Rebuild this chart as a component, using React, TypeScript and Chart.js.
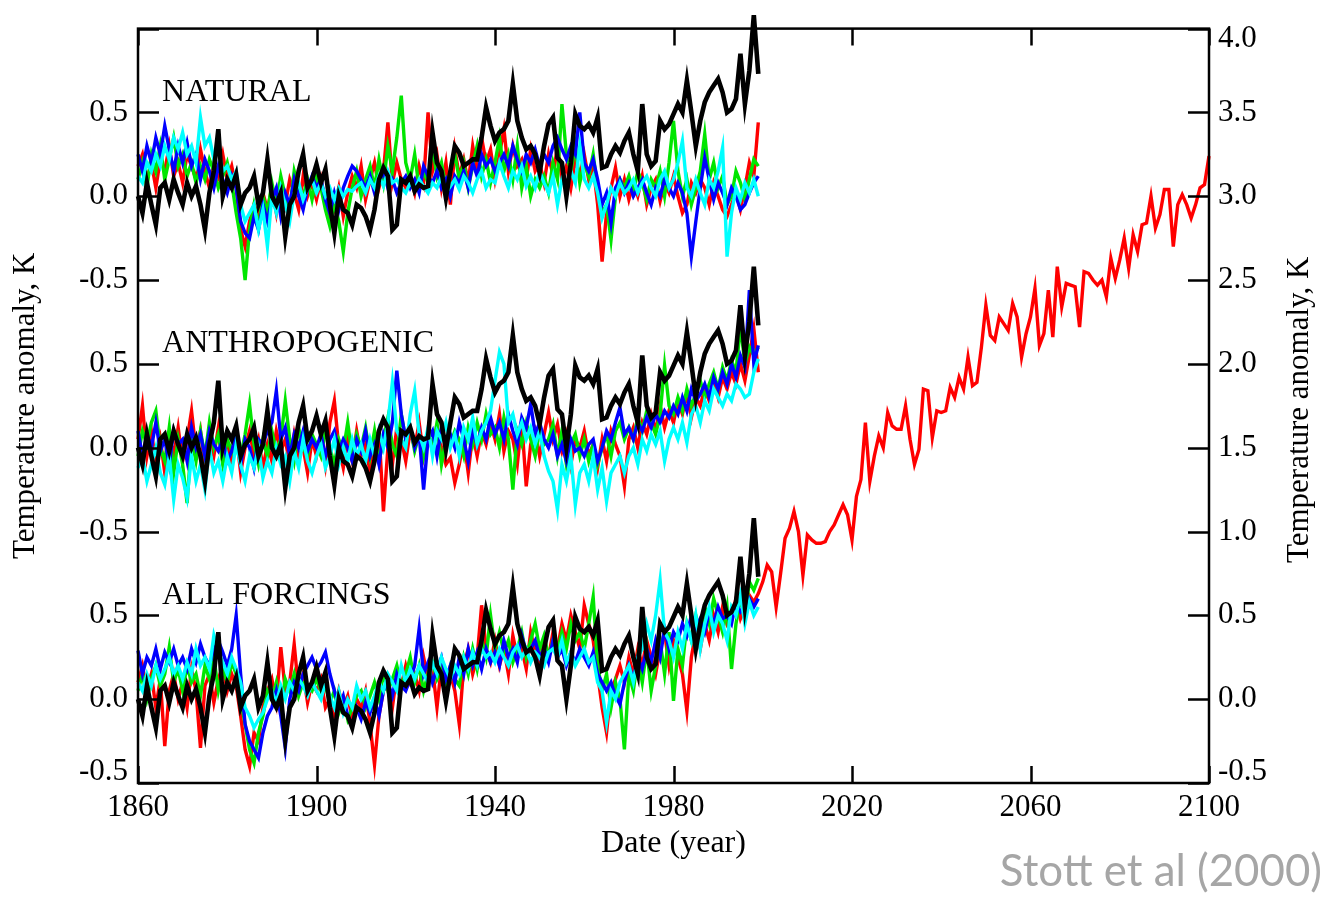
import React, { useEffect, useRef } from 'react';
import { Chart, registerables } from 'chart.js';

Chart.register(...registerables);

// ---------- categories ----------
const histYears = Array.from({ length: 140 }, (_, i) => 1860 + i); // 1860..1999
const projYears = Array.from({ length: 101 }, (_, i) => 2000 + i); // 2000..2100

// ---------- observations (same record in every panel), K ----------
const observed = [
  0.00, -0.10, 0.08, -0.05, -0.17, 0.05, 0.08, -0.02, 0.10, 0.02,
  -0.05, 0.08, 0.00, 0.06, -0.05, -0.20, 0.02, 0.15, 0.40, 0.00,
  0.10, 0.05, 0.13, -0.05, 0.02, 0.05, 0.12, -0.05, 0.02, 0.22,
  0.00, -0.05, 0.02, -0.24, -0.05, 0.00, 0.15, 0.25, 0.05, 0.10,
  0.19, 0.08, 0.16, -0.05, -0.22, 0.00, -0.08, -0.10, -0.17, -0.05,
  -0.07, -0.12, -0.20, -0.08, 0.10, 0.17, 0.12, -0.20, -0.17, 0.10,
  0.08, 0.12, 0.03, 0.07, 0.05, 0.06, 0.38, 0.20, 0.15, -0.01,
  0.15, 0.30, 0.26, 0.18, 0.20, 0.22, 0.22, 0.35, 0.53, 0.42,
  0.33, 0.38, 0.40, 0.45, 0.67, 0.45, 0.35, 0.28, 0.30, 0.25,
  0.14, 0.30, 0.43, 0.47, 0.23, 0.20, 0.00, 0.20, 0.49, 0.42,
  0.40, 0.43, 0.38, 0.47, 0.17, 0.18, 0.25, 0.30, 0.26, 0.33,
  0.38, 0.25, 0.15, 0.55, 0.25, 0.18, 0.21, 0.45, 0.40, 0.43,
  0.49, 0.55, 0.50, 0.69, 0.50, 0.30, 0.45, 0.56, 0.62, 0.66,
  0.70, 0.62, 0.50, 0.52, 0.58, 0.85, 0.55, 0.75, 1.08, 0.73,
];

// ---------- NATURAL forcing ensemble ----------
const naturalRed = [
  0.18, 0.25, 0.10, 0.20, 0.05, 0.22, 0.15, 0.30, 0.12, 0.20,
  0.08, 0.25, 0.18, 0.10, 0.28, 0.15, 0.05, 0.20, 0.12, 0.25,
  0.10, 0.18, 0.05, -0.20, -0.30, -0.15, -0.05, -0.12, 0.02, -0.08,
  0.05, -0.10, 0.08, -0.05, 0.10, 0.02, -0.08, 0.12, 0.00, 0.08,
  -0.02, 0.10, -0.05, -0.15, -0.08, 0.05, -0.12, 0.02, 0.12, 0.05,
  0.18, -0.02, 0.10, 0.20, 0.05, 0.15, 0.44, 0.08, 0.20, 0.10,
  0.05, 0.12, 0.02, 0.18, 0.08, 0.50, 0.15, 0.25, 0.05, 0.20,
  -0.05, 0.28, 0.12, 0.22, 0.08, 0.30, 0.15, 0.35, 0.20, 0.28,
  0.10, 0.25, 0.40, 0.15, 0.30, 0.18, 0.22, 0.10, 0.28, 0.15,
  0.20, 0.08, 0.25, 0.12, 0.30, 0.10, 0.18, 0.05, 0.22, 0.12,
  0.25, 0.10, 0.18, -0.05, -0.39, -0.10, 0.05, 0.17, 0.00, 0.10,
  -0.02, 0.08, 0.00, 0.12, -0.05, 0.05, 0.10, -0.03, 0.08, 0.02,
  0.12, 0.00, -0.10, -0.05, 0.08, 0.02, 0.10, 0.05, -0.05, 0.08,
  0.00, -0.08, -0.12, -0.05, 0.02, -0.08, 0.05, 0.20, 0.12, 0.44,
];
const naturalGreen = [
  0.10, 0.20, 0.05, 0.25, 0.15, 0.30, 0.10, 0.22, 0.35, 0.18,
  0.25, 0.12, 0.20, 0.08, 0.18, 0.10, 0.22, 0.15, 0.05, 0.12,
  0.20, 0.08, -0.10, -0.25, -0.50, -0.20, -0.05, -0.18, 0.00, -0.10,
  0.08, -0.05, 0.12, 0.00, -0.08, 0.15, 0.05, 0.00, 0.10, -0.02,
  0.12, 0.05, -0.08, -0.18, -0.05, -0.15, -0.33, -0.10, 0.05, 0.15,
  0.00, 0.10, 0.18, 0.05, 0.22, 0.08, 0.30, 0.15, 0.35, 0.60,
  0.20, 0.10, 0.25, 0.05, 0.15, 0.08, 0.30, 0.12, 0.20, 0.05,
  0.15, 0.25, 0.10, 0.20, 0.05, 0.18, 0.30, 0.12, 0.22, 0.08,
  0.20, 0.35, 0.15, 0.25, 0.10, 0.30, 0.05, 0.18, 0.00, 0.10,
  0.05, 0.12, 0.02, 0.20, 0.10, 0.55, 0.25, 0.15, 0.30, 0.08,
  0.20, 0.12, 0.25, 0.05, -0.10, -0.05, -0.26, 0.00, 0.10, 0.05,
  0.12, 0.02, 0.15, 0.08, -0.02, 0.10, 0.05, 0.15, 0.00, 0.20,
  0.45, 0.15, 0.00, 0.10, -0.05, 0.05, 0.15, 0.37, 0.10, 0.20,
  0.05, 0.12, -0.05, 0.00, 0.15, 0.08, -0.02, 0.10, 0.22, 0.18,
];
const naturalBlue = [
  0.25, 0.15, 0.30, 0.20, 0.35, 0.25, 0.42, 0.28, 0.15, 0.30,
  0.20, 0.32, 0.18, 0.25, 0.10, 0.22, 0.15, 0.05, 0.18, 0.10,
  0.02, 0.12, 0.05, -0.15, -0.22, -0.25, -0.12, -0.20, -0.05, -0.15,
  -0.02, 0.05, -0.12, 0.02, -0.05, 0.10, 0.00, -0.08, 0.05, 0.12,
  0.05, 0.10, -0.02, -0.10, 0.02, -0.08, 0.05, 0.12, 0.18, 0.15,
  0.10, 0.05, 0.12, 0.02, 0.08, 0.15, 0.05, 0.10, 0.02, 0.08,
  0.12, 0.05, 0.10, 0.02, 0.18, 0.12, 0.08, 0.15, 0.05, 0.10,
  0.00, 0.12, 0.08, 0.15, 0.05, 0.20, 0.12, 0.25, 0.18, 0.22,
  0.15, 0.20, 0.25, 0.18, 0.30, 0.22, 0.15, 0.25, 0.20, 0.28,
  0.18, 0.25, 0.20, 0.30, 0.35, 0.28, 0.22, 0.30, 0.25, 0.50,
  0.20, 0.15, 0.22, 0.10, -0.05, 0.02, -0.16, 0.05, 0.10, 0.02,
  0.08, 0.00, 0.05, 0.10, 0.02, -0.05, 0.05, 0.00, 0.10, 0.05,
  0.00, 0.08, 0.02, -0.10, -0.36, -0.15, 0.05, 0.23, 0.10, -0.02,
  0.08, 0.02, -0.05, 0.05, 0.00, -0.08, -0.05, 0.02, 0.08, 0.12,
];
const naturalCyan = [
  0.12, 0.08, 0.20, 0.15, 0.25, 0.18, 0.30, 0.22, 0.35, 0.28,
  0.38, 0.25, 0.30, 0.20, 0.47, 0.30, 0.35, 0.22, 0.28, 0.15,
  0.18, 0.10, 0.15, -0.05, -0.15, -0.10, -0.05, -0.20, -0.08, -0.30,
  0.00, -0.10, 0.05, -0.05, -0.15, 0.02, 0.08, -0.02, 0.05, 0.10,
  0.02, 0.08, 0.00, 0.05, -0.02, 0.05, 0.00, 0.04, 0.03, 0.06,
  0.08, 0.02, 0.10, 0.05, 0.12, 0.06, 0.15, 0.08, 0.10, 0.05,
  0.02, 0.08, 0.04, 0.10, 0.06, 0.02, 0.08, 0.05, 0.12, 0.02,
  0.06, 0.10, 0.04, 0.12, 0.08, 0.02, 0.10, 0.15, 0.05, 0.10,
  0.08, 0.20, 0.12, 0.05, 0.15, 0.10, 0.18, 0.06, 0.12, 0.05,
  0.15, 0.08, 0.02, 0.12, -0.05, 0.10, 0.05, 0.15, 0.08, 0.30,
  0.10, 0.05, 0.12, 0.02, -0.13, -0.05, 0.05, 0.00, 0.08, 0.02,
  0.05, 0.10, 0.02, 0.08, 0.12, 0.05, 0.00, 0.10, 0.15, 0.05,
  0.10, 0.20, 0.33, 0.05, 0.00, 0.10, 0.02, -0.05, 0.10, 0.05,
  0.15, 0.29, -0.36, -0.10, 0.05, -0.02, 0.08, 0.02, 0.10, 0.00,
];

// ---------- ANTHROPOGENIC forcing ensemble ----------
const anthroRed = [
  0.05, 0.25, -0.05, 0.10, -0.10, 0.05, -0.15, 0.08, -0.05, 0.12,
  -0.08, 0.05, 0.22, -0.02, 0.10, -0.12, 0.05, -0.05, 0.12, -0.08,
  0.02, -0.10, 0.08, -0.15, 0.00, 0.10, -0.05, 0.05, -0.12, 0.02,
  -0.08, 0.10, -0.02, 0.05, -0.10, 0.08, -0.05, 0.00, -0.15, 0.05,
  -0.05, 0.08, -0.10, 0.15, 0.28, 0.00, -0.12, 0.05, -0.08, 0.10,
  -0.05, 0.02, -0.15, 0.05, 0.10, -0.38, 0.00, -0.10, 0.12, 0.05,
  -0.08, 0.10, 0.00, 0.15, -0.05, 0.08, -0.02, 0.12, 0.00, -0.10,
  -0.06, -0.21, -0.10, 0.05, -0.15, 0.08, -0.05, 0.10, 0.02, 0.15,
  0.05, 0.20, -0.02, 0.10, 0.05, -0.10, 0.15, -0.23, 0.02, 0.10,
  -0.05, 0.08, 0.21, 0.05, 0.14, -0.02, 0.08, -0.10, 0.05, 0.00,
  0.10, -0.05, 0.02, -0.12, 0.05, -0.08, 0.10, 0.02, -0.05, -0.23,
  0.05, 0.12, 0.00, 0.15, 0.08, 0.20, 0.10, 0.25, 0.12, 0.22,
  0.15, 0.28, 0.20, 0.32, 0.18, 0.30, 0.25, 0.35, 0.28, 0.40,
  0.30, 0.42, 0.35, 0.45, 0.38, 0.50, 0.40, 0.55, 0.71, 0.45,
];
const anthroGreen = [
  -0.05, 0.10, 0.02, 0.15, 0.22, 0.00, -0.08, 0.12, -0.15, 0.05,
  -0.10, -0.33, 0.05, -0.08, 0.10, -0.05, 0.15, 0.00, 0.08, -0.10,
  0.05, -0.02, 0.12, -0.05, 0.08, 0.26, 0.02, -0.10, 0.05, -0.05,
  0.10, -0.02, 0.05, 0.28, 0.05, -0.08, 0.12, 0.00, -0.05, 0.08,
  0.02, -0.05, 0.10, 0.00, -0.10, 0.05, -0.02, 0.15, -0.05, 0.08,
  0.00, 0.12, -0.05, 0.10, -0.08, 0.05, 0.18, 0.02, -0.05, 0.20,
  0.05, 0.12, -0.02, 0.08, -0.05, 0.10, 0.00, 0.15, -0.10, 0.05,
  0.02, 0.10, 0.05, -0.05, 0.12, 0.02, 0.15, 0.05, 0.20, 0.08,
  0.12, 0.00, 0.18, 0.05, -0.25, 0.10, 0.02, 0.15, 0.05, -0.05,
  0.10, 0.02, 0.05, 0.14, -0.05, 0.10, -0.10, 0.02, 0.08, -0.05,
  0.05, -0.08, 0.02, -0.10, 0.00, 0.08, -0.05, 0.10, 0.15, 0.05,
  0.12, 0.05, 0.18, 0.10, 0.22, 0.15, 0.08, 0.20, 0.49, 0.25,
  0.20, 0.30, 0.22, 0.35, 0.25, 0.32, 0.40, 0.30, 0.38, 0.45,
  0.35, 0.48, 0.40, 0.52, 0.45, 0.73, 0.50, 0.60, 0.55, 0.60,
];
const anthroBlue = [
  0.10, -0.05, 0.08, 0.00, 0.15, -0.02, 0.05, -0.10, 0.10, 0.02,
  0.05, -0.08, 0.12, 0.00, 0.08, -0.05, 0.10, 0.02, -0.02, 0.05,
  -0.08, -0.02, 0.08, -0.10, 0.05, 0.00, -0.12, 0.05, 0.02, 0.10,
  0.15, 0.34, 0.05, 0.12, -0.05, 0.08, 0.00, 0.10, -0.02, 0.05,
  0.00, 0.08, -0.05, 0.05, 0.10, -0.02, 0.05, 0.00, -0.08, 0.05,
  -0.02, 0.10, -0.05, 0.02, -0.10, 0.08, 0.00, 0.15, 0.46, 0.20,
  0.05, 0.12, 0.00, 0.08, -0.25, 0.05, 0.10, -0.05, 0.12, 0.02,
  0.08, 0.00, 0.15, 0.05, -0.08, 0.10, 0.02, 0.12, 0.05, 0.18,
  0.08, 0.15, 0.05, 0.20, 0.10, 0.02, 0.18, 0.12, 0.26, 0.08,
  0.15, 0.05, 0.00, 0.08, -0.05, 0.02, -0.08, 0.05, -0.02, 0.00,
  -0.05, 0.02, 0.05, -0.08, 0.00, 0.10, 0.05, 0.15, 0.24, 0.08,
  0.12, 0.05, 0.15, 0.10, 0.18, 0.12, 0.20, 0.15, 0.22, 0.18,
  0.25, 0.20, 0.30, 0.22, 0.35, 0.28, 0.32, 0.38, 0.30, 0.42,
  0.35, 0.45, 0.38, 0.50, 0.42, 0.55, 0.48, 0.94, 0.50, 0.61,
];
const anthroCyan = [
  -0.12, -0.05, -0.20, -0.10, 0.00, -0.15, -0.22, -0.05, -0.31, -0.10,
  -0.18, -0.30, -0.05, -0.20, -0.10, -0.25, 0.00, -0.15, -0.08, -0.20,
  -0.05, -0.15, 0.02, -0.10, -0.20, -0.05, -0.12, 0.00, -0.18, -0.08,
  -0.15, 0.00, -0.10, -0.05, -0.20, -0.02, -0.12, 0.05, -0.08, -0.15,
  -0.05, 0.02, -0.12, -0.05, 0.05, -0.10, 0.00, -0.08, 0.05, -0.05,
  0.02, -0.08, 0.05, -0.05, 0.10, 0.00, 0.15, 0.39, 0.10, 0.05,
  0.00, 0.20, 0.34, 0.08, 0.00, 0.12, -0.05, 0.10, 0.05, 0.15,
  0.00, 0.08, -0.05, 0.12, 0.05, 0.18, 0.02, 0.10, 0.15, 0.22,
  0.40, 0.57, 0.50, 0.15, 0.20, 0.08, 0.15, 0.05, 0.12, 0.02,
  0.10, -0.05, -0.14, -0.20, -0.37, -0.10, -0.20, -0.05, -0.34, -0.15,
  -0.10, -0.20, -0.05, -0.25, -0.12, -0.32, -0.15, -0.10, -0.05, -0.15,
  -0.05, 0.00, -0.10, 0.05, -0.02, 0.08, 0.02, 0.10, -0.08, 0.05,
  0.12, 0.05, 0.15, 0.03, 0.20, 0.25, 0.15, 0.28, 0.22, 0.35,
  0.30, 0.25, 0.32, 0.28, 0.38, 0.35, 0.30, 0.32, 0.45, 0.53,
];

// ---------- ALL FORCINGS ensemble ----------
const allRed = [
  0.10, 0.20, 0.05, 0.15, -0.05, 0.12, -0.28, 0.05, 0.15, 0.00,
  0.10, -0.05, 0.18, 0.05, -0.29, 0.08, 0.15, -0.02, 0.12, 0.20,
  0.05, 0.15, 0.08, -0.10, -0.30, -0.40, -0.20, -0.25, -0.05, 0.05,
  0.12, -0.02, 0.31, 0.05, 0.10, 0.33, 0.05, 0.15, -0.02, 0.10,
  0.05, 0.12, -0.05, 0.00, -0.10, 0.05, -0.05, 0.02, -0.12, 0.00,
  -0.05, 0.05, -0.15, -0.39, -0.10, 0.05, 0.10, -0.05, 0.15, 0.08,
  0.20, 0.10, 0.15, 0.05, 0.25, 0.12, 0.18, -0.05, 0.20, 0.10,
  0.15, 0.05, -0.15, 0.20, 0.30, 0.15, 0.25, 0.56, 0.30, 0.22,
  0.35, 0.20, 0.30, 0.15, 0.38, 0.25, 0.30, 0.18, 0.40, 0.28,
  0.22, 0.35, 0.25, 0.40, 0.30, 0.45, 0.35, 0.50, 0.40, 0.30,
  0.56, 0.45, 0.35, 0.15, -0.05, -0.20, 0.05, 0.12, 0.20, 0.10,
  0.25, 0.15, 0.30, 0.20, 0.35, 0.25, 0.15, 0.30, 0.40, 0.20,
  0.35, 0.25, 0.15, -0.07, 0.25, 0.40, 0.30, 0.45, 0.35, 0.50,
  0.40, 0.55, 0.45, 0.50, 0.60, 0.48, 0.55, 0.62, 0.58, 0.63,
];
const allRedProjection = [
  0.70, 0.80, 0.76, 0.55, 0.75, 0.96, 1.02, 1.12, 1.00, 0.74,
  0.98, 0.95, 0.93, 0.93, 0.94, 1.00, 1.04, 1.10, 1.16, 1.10,
  0.95, 1.21, 1.31, 1.65, 1.30, 1.45, 1.57, 1.50, 1.71, 1.63,
  1.61, 1.61, 1.75, 1.55, 1.40, 1.49, 1.85, 1.84, 1.56, 1.72,
  1.71, 1.72, 1.86, 1.80, 1.92, 1.85, 2.04, 1.87, 1.89, 2.10,
  2.35, 2.17, 2.14, 2.28, 2.24, 2.20, 2.36, 2.28, 2.04, 2.18,
  2.28, 2.45, 2.11, 2.18, 2.44, 2.16, 2.58, 2.34, 2.48, 2.47,
  2.46, 2.22, 2.55, 2.54, 2.50, 2.47, 2.50, 2.40, 2.63, 2.51,
  2.62, 2.75, 2.57, 2.77, 2.67, 2.83, 2.84, 3.00, 2.81, 2.89,
  3.04, 3.04, 2.70, 2.95, 3.01, 2.95, 2.87, 2.95, 3.05, 3.07,
  3.24,
];
const allGreen = [
  0.05, 0.15, 0.00, 0.12, 0.20, 0.08, 0.15, 0.31, 0.10, 0.18,
  0.05, 0.20, 0.10, 0.15, 0.02, 0.20, 0.12, 0.25, 0.05, 0.18,
  0.10, 0.22, 0.15, 0.00, -0.15, -0.30, -0.38, -0.20, -0.10, 0.05,
  0.00, 0.10, -0.05, 0.12, 0.05, 0.15, 0.02, 0.10, 0.08, 0.05,
  0.12, 0.05, 0.08, -0.02, 0.05, -0.08, 0.00, -0.12, -0.05, 0.02,
  0.05, -0.05, 0.02, 0.10, 0.00, 0.15, 0.05, 0.12, 0.20, 0.08,
  0.15, 0.25, 0.10, 0.20, 0.05, 0.15, 0.22, 0.12, 0.18, 0.10,
  0.20, 0.12, 0.08, 0.25, 0.15, 0.30, 0.18, 0.35, 0.25, 0.50,
  0.30, 0.40, 0.28, 0.35, 0.22, 0.30, 0.40, 0.25, 0.35, 0.45,
  0.30, 0.38, 0.25, 0.35, 0.28, 0.40, 0.30, 0.45, 0.35, 0.40,
  0.30, 0.45, 0.61, 0.20, 0.05, 0.15, -0.05, 0.10, 0.00, -0.30,
  0.15, 0.05, 0.25, 0.10, 0.30, 0.05, 0.20, 0.35, 0.15, 0.40,
  -0.01, 0.30, 0.20, 0.45, 0.35, 0.50, 0.40, 0.55, 0.45, 0.60,
  0.50, 0.40, 0.55, 0.18, 0.45, 0.60, 0.50, 0.70, 0.65, 0.72,
];
const allBlue = [
  0.29, 0.15, 0.25, 0.20, 0.30, 0.18, 0.28, 0.22, 0.30, 0.20,
  0.25, 0.18, 0.30, 0.22, 0.33, 0.25, 0.20, 0.30, 0.35, 0.28,
  0.20, 0.30, 0.50, 0.15, -0.15, -0.25, -0.30, -0.35, -0.20, -0.10,
  -0.05, 0.05, -0.10, -0.29, 0.00, 0.10, 0.05, 0.15, 0.20, 0.25,
  0.18, 0.22, 0.28, 0.15, 0.05, -0.05, 0.02, -0.10, -0.15, -0.05,
  -0.12, -0.02, -0.08, 0.00, -0.10, 0.05, 0.10, 0.02, 0.15, 0.08,
  0.05, 0.12, 0.20, 0.42, 0.15, 0.22, 0.10, 0.18, 0.25, 0.12,
  0.20, 0.10, 0.25, 0.15, 0.30, 0.20, 0.28, 0.18, 0.30, 0.22,
  0.28, 0.20, 0.35, 0.25, 0.30, 0.22, 0.38, 0.28, 0.30, 0.35,
  0.25, 0.30, 0.22, 0.35, 0.25, 0.30, 0.20, 0.28, 0.22, 0.30,
  0.25, 0.20, 0.28, 0.15, 0.10, 0.05, 0.10, 0.02, -0.03, 0.10,
  0.20, 0.12, 0.25, 0.18, 0.30, 0.22, 0.35, 0.25, 0.42, 0.30,
  0.40, 0.35, 0.45, 0.38, 0.50, 0.42, 0.48, 0.40, 0.52, 0.45,
  0.55, 0.48, 0.50, 0.45, 0.58, 0.52, 0.55, 0.60, 0.55, 0.60,
];
const allCyan = [
  0.10, 0.05, 0.15, 0.08, 0.20, 0.12, 0.18, 0.25, 0.15, 0.20,
  0.12, 0.22, 0.15, 0.30, 0.20, 0.25, 0.18, 0.38, 0.28, 0.22,
  0.15, 0.25, 0.18, 0.10, -0.05, -0.10, -0.17, -0.12, -0.08, 0.00,
  0.05, -0.02, 0.08, 0.00, 0.10, 0.05, 0.12, 0.08, 0.02, 0.10,
  0.05, 0.00, 0.10, 0.02, -0.05, 0.05, -0.08, 0.00, -0.05, 0.08,
  0.00, 0.05, -0.05, 0.02, 0.10, 0.05, 0.15, 0.10, 0.05, 0.20,
  0.10, 0.18, 0.12, 0.20, 0.15, 0.10, 0.22, 0.15, 0.25, 0.18,
  0.12, 0.20, 0.15, 0.25, 0.18, 0.28, 0.20, 0.30, 0.25, 0.28,
  0.22, 0.30, 0.25, 0.20, 0.28, 0.32, 0.25, 0.30, 0.22, 0.28,
  0.25, 0.20, 0.28, 0.30, 0.25, 0.35, 0.22, 0.28, 0.20, 0.25,
  0.30, 0.22, 0.25, 0.10, 0.05, -0.14, 0.05, 0.00, 0.10, 0.15,
  0.20, 0.10, 0.25, 0.30, 0.45, 0.35, 0.50, 0.71, 0.40, 0.35,
  0.25, 0.40, 0.30, 0.45, 0.35, 0.50, 0.30, 0.45, 0.55, 0.40,
  0.50, 0.45, 0.35, 0.55, 0.50, 0.62, 0.45, 0.58, 0.50, 0.55,
];

// ---------- axes / labels ----------
const xTickValues = [1860, 1900, 1940, 1980, 2020, 2060, 2100];
const yTickValues = [-0.5, 0, 0.5, 1.0, 1.5, 2.0, 2.5, 3.0, 3.5, 4.0];
const leftTickLabels = ['-0.5', '0.0', '0.5', '-0.5', '0.0', '0.5', '-0.5', '0.0', '0.5', ''];
const rightTickLabels = ['-0.5', '0.0', '0.5', '1.0', '1.5', '2.0', '2.5', '3.0', '3.5', '4.0'];
const panelNames = ['NATURAL', 'ANTHROPOGENIC', 'ALL FORCINGS'];
const panelOffsets = [3.0, 1.5, 0.0];
const yTitle = 'Temperature anomaly, K';
const xTitle = 'Date (year)';
const credit = 'Stott et al (2000)';

const COLORS = { obs: '#000000', red: '#ff0000', green: '#00e600', blue: '#0000ff', cyan: '#00ffff' };
const SERIF = "'Liberation Serif', 'Times New Roman', serif";
const TICK_FONT_PX = 31;

function toPoints(years: number[], values: number[], offset: number) {
  return values.map((v, i) => ({ x: years[i], y: v + offset }));
}

function tickIndex(value: number) {
  return yTickValues.findIndex((t) => Math.abs(t - value) < 1e-6);
}

// edge labels (first / last tick) are nudged inward, so the plugin draws them
function axisLabel(list: string[], value: number) {
  const idx = tickIndex(value);
  if (idx <= 0 || idx === yTickValues.length - 1) return '';
  return list[idx];
}

const decorPlugin = {
  id: 'decor',
  afterDatasetsDraw(chart: any) {
    const { ctx, chartArea, scales } = chart;
    const { left, right, top, bottom } = chartArea;
    ctx.save();
    ctx.strokeStyle = '#000';
    ctx.lineWidth = 2.5;
    ctx.strokeRect(left, top, right - left, bottom - top);
    ctx.beginPath();
    yTickValues.forEach((v) => {
      const y = Math.round(scales.y.getPixelForValue(v)) + 0.5;
      ctx.moveTo(left, y); ctx.lineTo(left + 21, y);
      ctx.moveTo(right, y); ctx.lineTo(right - 21, y);
    });
    xTickValues.forEach((v) => {
      const x = Math.round(scales.x.getPixelForValue(v)) + 0.5;
      ctx.moveTo(x, bottom); ctx.lineTo(x, bottom - 17);
      ctx.moveTo(x, top); ctx.lineTo(x, top + 17);
    });
    ctx.stroke();

    ctx.fillStyle = '#000';
    // edge tick labels, nudged inside the frame's height
    ctx.font = `${TICK_FONT_PX}px ${SERIF}`;
    ctx.textBaseline = 'middle';
    const first = 0;
    const last = yTickValues.length - 1;
    const yFirst = scales.y.getPixelForValue(yTickValues[first]) - 11;
    const yLast = scales.y.getPixelForValue(yTickValues[last]) + 10;
    ctx.textAlign = 'right';
    if (leftTickLabels[first]) ctx.fillText(leftTickLabels[first], left - 10, yFirst);
    if (leftTickLabels[last]) ctx.fillText(leftTickLabels[last], left - 10, yLast);
    ctx.textAlign = 'left';
    ctx.fillText(rightTickLabels[first], right + 9, yFirst);
    ctx.fillText(rightTickLabels[last], right + 9, yLast);

    // panel names
    ctx.font = `32px ${SERIF}`;
    ctx.textAlign = 'left';
    ctx.textBaseline = 'alphabetic';
    panelNames.forEach((name, i) => {
      ctx.fillText(name, scales.x.getPixelForValue(1865.4), scales.y.getPixelForValue(panelOffsets[i] + 0.57));
    });

    // right axis title (reads bottom to top like the left one)
    ctx.save();
    ctx.translate(right + 91, (top + bottom) / 2 + 4);
    ctx.rotate(-Math.PI / 2);
    ctx.textAlign = 'center';
    ctx.textBaseline = 'middle';
    ctx.font = `31px ${SERIF}`;
    ctx.fillText(yTitle, 0, 0);
    ctx.restore();

    // credit line
    ctx.font = "40px 'Lato', 'Noto Sans', sans-serif";
    const w = ctx.measureText(credit).width;
    const size = 40 * 322 / w;
    ctx.font = `${size.toFixed(1)}px 'Lato', 'Noto Sans', sans-serif`;
    ctx.fillStyle = '#a6a6a6';
    ctx.textAlign = 'right';
    ctx.textBaseline = 'alphabetic';
    ctx.fillText(credit, chart.width - 9, 886);
    ctx.restore();
  },
};

export default function App() {
  const canvasRef = useRef<HTMLCanvasElement | null>(null);

  useEffect(() => {
    if (!canvasRef.current) return;
    const mk = (label: string, data: any[], color: string, width: number) => ({
      label, data, borderColor: color, backgroundColor: color, borderWidth: width,
      pointRadius: 0, tension: 0, fill: false, clip: false as any,
    });
    const allRedFull = toPoints(histYears, allRed, 0).concat(toPoints(projYears, allRedProjection, 0));
    const obsW = 4.6;
    const modW = 3.4;
    const datasets = [
      mk('Observed natural', toPoints(histYears, observed, panelOffsets[0]), COLORS.obs, obsW),
      mk('Observed anthropogenic', toPoints(histYears, observed, panelOffsets[1]), COLORS.obs, obsW),
      mk('Observed all', toPoints(histYears, observed, panelOffsets[2]), COLORS.obs, obsW),
      mk('Natural cyan', toPoints(histYears, naturalCyan, panelOffsets[0]), COLORS.cyan, modW),
      mk('Anthro cyan', toPoints(histYears, anthroCyan, panelOffsets[1]), COLORS.cyan, modW),
      mk('All cyan', toPoints(histYears, allCyan, panelOffsets[2]), COLORS.cyan, modW),
      mk('Natural blue', toPoints(histYears, naturalBlue, panelOffsets[0]), COLORS.blue, modW),
      mk('Anthro blue', toPoints(histYears, anthroBlue, panelOffsets[1]), COLORS.blue, modW),
      mk('All blue', toPoints(histYears, allBlue, panelOffsets[2]), COLORS.blue, modW),
      mk('Natural green', toPoints(histYears, naturalGreen, panelOffsets[0]), COLORS.green, modW),
      mk('Anthro green', toPoints(histYears, anthroGreen, panelOffsets[1]), COLORS.green, modW),
      mk('All green', toPoints(histYears, allGreen, panelOffsets[2]), COLORS.green, modW),
      mk('Natural red', toPoints(histYears, naturalRed, panelOffsets[0]), COLORS.red, modW),
      mk('Anthro red', toPoints(histYears, anthroRed, panelOffsets[1]), COLORS.red, modW),
      mk('All red', allRedFull, COLORS.red, modW),
    ];
    const tickFont = { family: SERIF, size: TICK_FONT_PX };
    const noGrid = { display: false, drawTicks: false, tickLength: 0 };
    const chart = new Chart(canvasRef.current, {
      type: 'line',
      data: { datasets },
      options: {
        responsive: true,
        maintainAspectRatio: false,
        animation: false,
        layout: { padding: { top: 23, left: 0, right: 0, bottom: 0 } },
        plugins: { legend: { display: false }, tooltip: { enabled: false } },
        scales: {
          x: {
            type: 'linear', position: 'bottom', min: 1860, max: 2100,
            grid: noGrid, border: { display: false },
            ticks: { stepSize: 40, autoSkip: false, maxRotation: 0, padding: 6, color: '#000', font: tickFont, callback: (v: any) => String(v) },
            title: { display: true, text: xTitle, color: '#000', font: { family: SERIF, size: 32 }, padding: { top: 0, bottom: 36 } },
            afterFit: (s: any) => { s.height = 116; },
          },
          y: {
            type: 'linear', position: 'left', min: -0.5, max: 4.0,
            grid: noGrid, border: { display: false },
            ticks: { stepSize: 0.5, padding: 10, color: '#000', font: tickFont, callback: (v: any) => axisLabel(leftTickLabels, Number(v)) },
            title: { display: true, text: yTitle, color: '#000', font: { family: SERIF, size: 31 }, padding: { top: 7, bottom: 0 } },
            afterFit: (s: any) => { s.width = 138; },
          },
          y2: {
            type: 'linear', position: 'right', min: -0.5, max: 4.0,
            grid: noGrid, border: { display: false },
            ticks: { stepSize: 0.5, padding: 9, color: '#000', font: tickFont, callback: (v: any) => axisLabel(rightTickLabels, Number(v)) },
            afterFit: (s: any) => { s.width = 122; },
          },
        },
      } as any,
      plugins: [decorPlugin],
    });
    return () => chart.destroy();
  }, []);

  return (
    <div style={{ position: 'fixed', left: 0, top: 0, width: 1331, height: 899, background: '#ffffff' }}>
      <canvas ref={canvasRef} style={{ display: 'block' }} />
    </div>
  );
}
